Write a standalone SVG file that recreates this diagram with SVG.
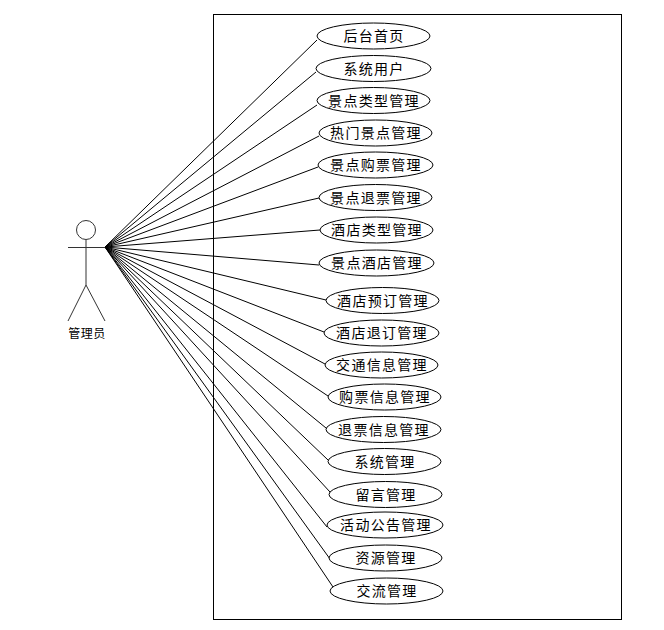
<svg xmlns="http://www.w3.org/2000/svg" width="664" height="630" viewBox="0 0 664 630">
<style>
.s{fill:none;stroke:#000;stroke-width:1}
.a{fill:none;stroke:#333;stroke-width:1}
.u{fill:#fff;stroke:#000;stroke-width:1}
text{font-family:"Noto Sans CJK SC","Liberation Sans",sans-serif;font-size:14px;fill:#000;text-anchor:middle;letter-spacing:1.3px}
.l{font-size:12px;letter-spacing:.5px}
</style>
<rect width="664" height="630" fill="#fff"/>
<rect id="boundary" x="213.5" y="14.5" width="408" height="605" class="s"/>
<g id="connectors" class="s">
<line x1="105" y1="247" x2="317" y2="40"/>
<line x1="105" y1="247" x2="316" y2="72"/>
<line x1="105" y1="247" x2="317" y2="105"/>
<line x1="105" y1="247" x2="319" y2="136"/>
<line x1="105" y1="247" x2="318" y2="167"/>
<line x1="105" y1="247" x2="319" y2="198"/>
<line x1="105" y1="247" x2="320" y2="230"/>
<line x1="105" y1="247" x2="319" y2="265"/>
<line x1="105" y1="247" x2="326" y2="300"/>
<line x1="105" y1="247" x2="324" y2="332"/>
<line x1="105" y1="247" x2="325" y2="364"/>
<line x1="105" y1="247" x2="328" y2="396"/>
<line x1="105" y1="247" x2="326" y2="428"/>
<line x1="105" y1="247" x2="328" y2="460"/>
<line x1="105" y1="247" x2="330" y2="492"/>
<line x1="105" y1="247" x2="327" y2="527"/>
<line x1="105" y1="247" x2="330" y2="559"/>
<line x1="105" y1="247" x2="333" y2="587"/>
</g>
<g id="actor">
<circle cx="86" cy="230" r="9.5" class="a"/>
<path class="a" d="M86 240V285M68 247.500H105M86 285L68 321M86 285L105 321"/>
<text class="l" x="87" y="338">管理员</text>
</g>
<g id="uc1"><ellipse class="u" cx="373.500" cy="36" rx="56.500" ry="13"/><text x="374" y="41">后台首页</text></g>
<g id="uc2"><ellipse class="u" cx="373.500" cy="68.500" rx="57.500" ry="13"/><text x="374" y="74">系统用户</text></g>
<g id="uc3"><ellipse class="u" cx="373.500" cy="100.500" rx="56.500" ry="13"/><text x="374" y="106">景点类型管理</text></g>
<g id="uc4"><ellipse class="u" cx="375.500" cy="133" rx="56.500" ry="13"/><text x="376" y="138">热门景点管理</text></g>
<g id="uc5"><ellipse class="u" cx="375.500" cy="165" rx="57.500" ry="13"/><text x="376" y="170">景点购票管理</text></g>
<g id="uc6"><ellipse class="u" cx="375.500" cy="197.500" rx="56.500" ry="13"/><text x="376" y="203">景点退票管理</text></g>
<g id="uc7"><ellipse class="u" cx="376.500" cy="230" rx="56.500" ry="13"/><text x="377" y="235">酒店类型管理</text></g>
<g id="uc8"><ellipse class="u" cx="376.500" cy="263" rx="57.500" ry="13"/><text x="377" y="268">景点酒店管理</text></g>
<g id="uc9"><ellipse class="u" cx="382.500" cy="300.500" rx="56.500" ry="13"/><text x="383" y="306">酒店预订管理</text></g>
<g id="uc10"><ellipse class="u" cx="381.500" cy="333" rx="57.500" ry="13"/><text x="382" y="338">酒店退订管理</text></g>
<g id="uc11"><ellipse class="u" cx="381.500" cy="365" rx="56.500" ry="13"/><text x="382" y="370">交通信息管理</text></g>
<g id="uc12"><ellipse class="u" cx="384.500" cy="397" rx="56.500" ry="13"/><text x="385" y="402">购票信息管理</text></g>
<g id="uc13"><ellipse class="u" cx="383.500" cy="429.500" rx="57.500" ry="13"/><text x="384" y="435">退票信息管理</text></g>
<g id="uc14"><ellipse class="u" cx="384.500" cy="461.500" rx="56.500" ry="13"/><text x="385" y="467">系统管理</text></g>
<g id="uc15"><ellipse class="u" cx="385.500" cy="494.500" rx="56.500" ry="13"/><text x="386" y="500">留言管理</text></g>
<g id="uc16"><ellipse class="u" cx="385" cy="525" rx="58" ry="13"/><text x="386" y="530">活动公告管理</text></g>
<g id="uc17"><ellipse class="u" cx="385.500" cy="558" rx="56.500" ry="13"/><text x="386" y="563">资源管理</text></g>
<g id="uc18"><ellipse class="u" cx="386.500" cy="591" rx="56.500" ry="13"/><text x="387" y="596">交流管理</text></g>
</svg>
